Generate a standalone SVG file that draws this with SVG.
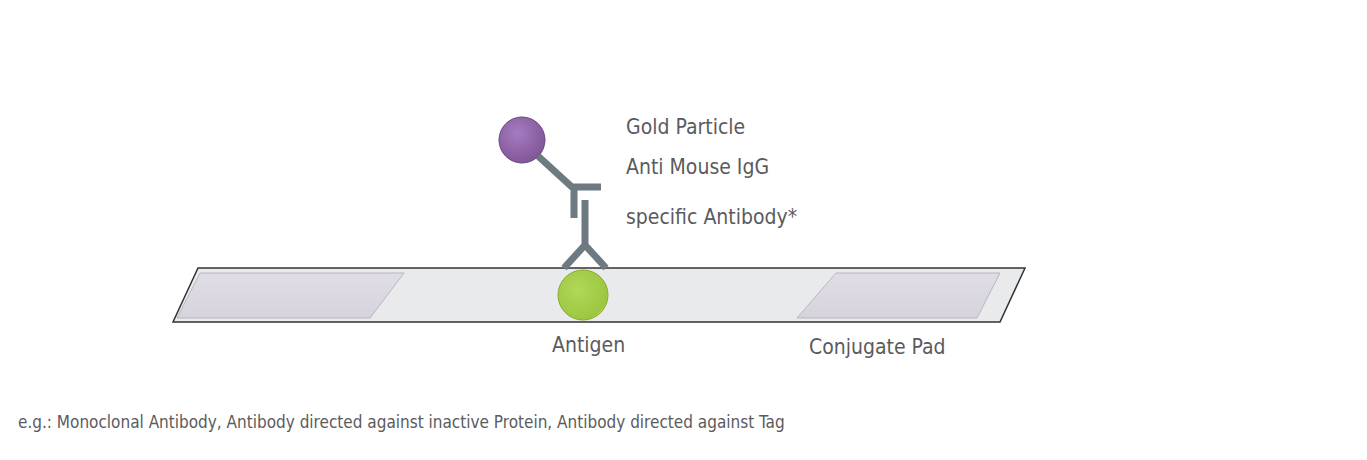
<svg xmlns="http://www.w3.org/2000/svg" width="1367" height="460" viewBox="0 0 1367 460">
<style>
text{font-family:"DejaVu Sans Condensed","DejaVu Sans",sans-serif;fill:#5b5b5d}
.l{font-size:21px}
.ab{stroke:#6d7a82;stroke-width:7;fill:none;stroke-linecap:butt}
</style>
<defs>
<radialGradient id="gp" cx="0.4" cy="0.35" r="0.7"><stop offset="0" stop-color="#a57cc0"/><stop offset="1" stop-color="#7f5496"/></radialGradient>
<radialGradient id="gg" cx="0.4" cy="0.4" r="0.7"><stop offset="0" stop-color="#b2d85a"/><stop offset="0.85" stop-color="#9cc640"/><stop offset="1" stop-color="#d8e84a"/></radialGradient>
<linearGradient id="pad" x1="0" y1="0" x2="0" y2="1"><stop offset="0" stop-color="#e0dde6"/><stop offset="1" stop-color="#d6d3dd"/></linearGradient>
</defs>
<g id="strip">
<polygon points="198,268 1025,268 1000,322 173,322" fill="#e9eaec" stroke="#333" stroke-width="1.5"/>
<polygon points="200,273 404,273 370,318 177,318" fill="url(#pad)" stroke="#b8b6c0"/>
<polygon points="836,273 1000,273 977,318 797,318" fill="url(#pad)" stroke="#b8b6c0"/>
</g>
<g id="gold"><circle cx="522" cy="140" r="23" fill="url(#gp)" stroke="#6a4480"/></g>
<g id="antiIgG">
<path class="ab" d="M538,156 L573,188 M572,187 H601 M574,187 V218"/>
</g>
<g id="specific">
<path class="ab" d="M585,200 V245 M585,245 L564,268 M585,245 L606,268"/>
</g>
<g id="antigen"><circle cx="583" cy="295" r="25" fill="url(#gg)" stroke="#8aaa30"/></g>
<g id="labels">
<text class="l" x="626" y="134">Gold Particle</text>
<text class="l" x="626" y="174">Anti Mouse IgG</text>
<text class="l" x="626" y="224">specific Antibody*</text>
<text class="l" x="552" y="352">Antigen</text>
<text class="l" x="809" y="354">Conjugate Pad</text>
<text x="18" y="428" font-size="17">e.g.: Monoclonal Antibody, Antibody directed against inactive Protein, Antibody directed against Tag</text>
</g>
</svg>
